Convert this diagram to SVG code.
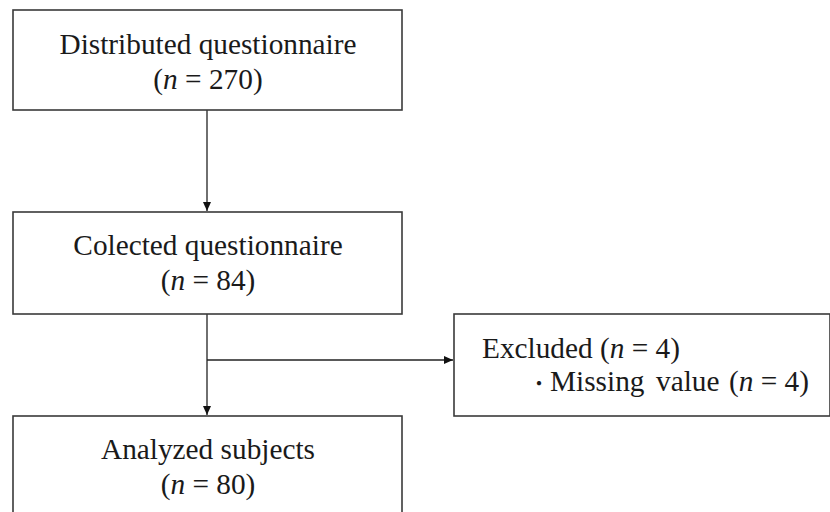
<svg xmlns="http://www.w3.org/2000/svg" width="830" height="512" viewBox="0 0 830 512">
<style>
.box{fill:#fff;stroke:#3a3a3a;stroke-width:1.6}
.t{font-family:"Liberation Serif","Times New Roman",serif;font-size:29.3px;fill:#1a1a1a}
.c{text-anchor:middle}
.i{font-style:italic}
.line{stroke:#222;stroke-width:1.3;fill:none}
</style>
<defs>
<marker id="ah" markerWidth="10" markerHeight="10" refX="9" refY="5" orient="auto" markerUnits="userSpaceOnUse">
<path d="M0,1 L9,5 L0,9 Z" fill="#111"/>
</marker>
</defs>
<rect width="830" height="512" fill="#fff"/>
<g id="connectors">
<line class="line" x1="207" y1="110" x2="207" y2="211" marker-end="url(#ah)"/>
<line class="line" x1="207" y1="314" x2="207" y2="415" marker-end="url(#ah)"/>
<line class="line" x1="207" y1="360" x2="453" y2="360" marker-end="url(#ah)"/>
</g>
<g id="distributed">
<rect class="box" x="13" y="10" width="389" height="100"/>
<text class="t c" x="208" y="54">Distributed questionnaire</text>
<text class="t c" x="208" y="89">(<tspan class="i">n</tspan> = 270)</text>
</g>
<g id="collected">
<rect class="box" x="13" y="212" width="389" height="102"/>
<text class="t c" x="208" y="255">Colected questionnaire</text>
<text class="t c" x="208" y="290">(<tspan class="i">n</tspan> = 84)</text>
</g>
<g id="excluded">
<rect class="box" x="454" y="314" width="376" height="102"/>
<text class="t" x="482" y="358">Excluded (<tspan class="i">n</tspan> = 4)</text>
<text class="t c" x="539" y="391" style="font-family:'Noto Sans CJK JP',sans-serif;font-size:20px">・</text>
<text class="t" y="391"><tspan x="550">Missing</tspan><tspan x="656">value</tspan><tspan x="729">(</tspan><tspan class="i">n</tspan> = 4)</text>
</g>
<g id="analyzed">
<rect class="box" x="13" y="416" width="389" height="110"/>
<text class="t c" x="208" y="459">Analyzed subjects</text>
<text class="t c" x="208" y="494">(<tspan class="i">n</tspan> = 80)</text>
</g>
</svg>
